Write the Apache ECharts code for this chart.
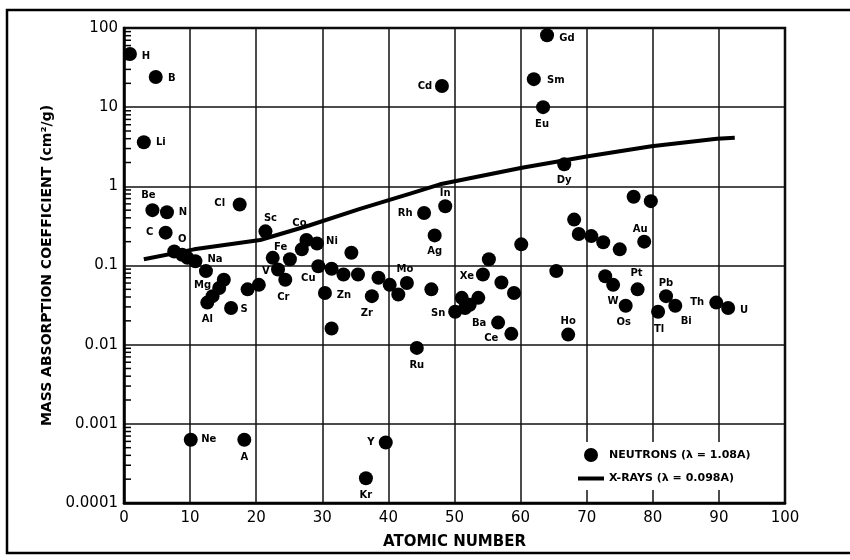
<!DOCTYPE html>
<html>
<head>
<meta charset="utf-8">
<script src="https://cdn.jsdelivr.net/npm/echarts@6/dist/echarts.min.js"></script>
<style>
  html, body { margin: 0; padding: 0; background: #fff; }
  #chart { width: 850px; height: 560px; }
</style>
</head>
<body>
<div id="chart"></div>
<script>
// neutron absorption points (atomic number, coefficient)
var neutronNames = ['H', 'Li', 'B', 'Be', 'C', 'N', 'O', '', '', '', 'Na', 'Mg', '', '', 'Al', 'S', 'Cl', '', 'V', 'Sc',
  'Fe', '', 'Cr', '', '', 'Co', 'Ni', 'Cu', 'Zn', '', '', '', '', '', 'Zr', '', '', '', 'Mo', 'Ru',
  'Rh', '', 'Ag', 'Cd', 'In', 'Sn', '', '', '', '', 'Xe', '', 'Ba', '', 'Ce', '', '', 'Sm', 'Eu', 'Gd',
  '', 'Dy', 'Ho', '', '', '', '', '', 'W', '', 'Os', '', 'Pt', 'Au', '', 'Tl', 'Pb', 'Bi', 'Th', 'U',
  'Ne', 'A', 'Kr', 'Y'];
var neutronZ = [0.9, 3.0, 4.8, 4.3, 6.3, 6.5, 7.6, 8.8, 9.6, 10.8, 12.4, 13.4, 14.4, 15.1, 12.6, 16.2, 17.5, 18.7, 20.4, 21.4,
  22.5, 23.3, 24.4, 25.1, 26.9, 27.6, 29.2, 29.4, 30.4, 31.4, 31.4, 33.2, 34.4, 35.4, 37.5, 38.5, 40.2, 41.5, 42.8, 44.3,
  45.4, 46.5, 47.0, 48.1, 48.6, 50.1, 51.1, 51.6, 52.3, 53.6, 54.3, 55.2, 56.6, 57.1, 58.6, 59.0, 60.1, 62.0, 63.4, 64.0,
  65.4, 66.6, 67.2, 68.1, 68.8, 70.7, 72.5, 72.8, 74.0, 75.0, 75.9, 77.1, 77.7, 78.7, 79.7, 80.8, 82.0, 83.4, 89.6, 91.4,
  10.1, 18.2, 36.6, 39.6];
var neutronVal = [47, 3.6, 24, 0.50, 0.26, 0.47, 0.15, 0.137, 0.125, 0.113, 0.085, 0.041, 0.052, 0.066, 0.034, 0.029, 0.59, 0.050, 0.057, 0.27,
  0.125, 0.089, 0.066, 0.12, 0.16, 0.21, 0.19, 0.098, 0.045, 0.016, 0.091, 0.077, 0.145, 0.077, 0.041, 0.070, 0.057, 0.043, 0.060, 0.0091,
  0.46, 0.050, 0.24, 18.5, 0.56, 0.026, 0.039, 0.029, 0.032, 0.039, 0.077, 0.12, 0.019, 0.061, 0.0137, 0.045, 0.185, 22.6, 10, 81,
  0.085, 1.9, 0.0134, 0.38, 0.25, 0.235, 0.197, 0.073, 0.057, 0.16, 0.031, 0.74, 0.050, 0.20, 0.65, 0.026, 0.041, 0.031, 0.034, 0.029,
  0.00063, 0.00063, 0.000205, 0.00058];

// x-ray curve
var xrayZ = [3, 10.6, 20.6, 28, 35.7, 43.3, 47.8, 60.2, 70.2, 79.8, 89.7, 92.4];
var xrayVal = [0.12, 0.16, 0.21, 0.32, 0.52, 0.81, 1.06, 1.72, 2.4, 3.2, 4.0, 4.1];

var yTicks = [0.0001, 0.001, 0.01, 0.1, 1, 10, 100];

// where each element symbol sits relative to its dot (px)
var labelOffset = {
  H: [16, 2], Li: [17, 0], B: [16, 1], Be: [-4, -15], C: [-16, 0], N: [16, 0], O: [8, -12],
  Na: [9, -12], Mg: [-10, -11], Al: [0, 17], S: [13, 1], Cl: [-20, -1], V: [7, -13], Sc: [5, -13],
  Fe: [8, -10], Cr: [-2, 18], Co: [-7, -17], Ni: [15, -2], Cu: [-10, 12], Zn: [19, 2], Zr: [-5, 17],
  Mo: [-2, -14], Ru: [0, 17], Rh: [-19, 0], Ag: [0, 16], Cd: [-17, 0], In: [0, -13], Sn: [-17, 2],
  Xe: [-16, 2], Ba: [-19, 1], Ce: [-20, 5], Sm: [22, 1], Eu: [-1, 17], Gd: [20, 3], Dy: [0, 16],
  Ho: [0, -13], W: [0, 17], Os: [-2, 17], Pt: [-1, -16], Au: [-4, -12], Tl: [1, 18], Pb: [0, -13],
  Bi: [11, 16], Th: [-19, 0], U: [16, 2], Ne: [18, 0], A: [0, 18], Kr: [0, 17], Y: [-15, 0]
};

var NEUTRON = 'NEUTRONS (λ = 1.08A)';
var XRAY = 'X-RAYS (λ = 0.098A)';

var neutronData = neutronZ.map(function (z, i) {
  var nm = neutronNames[i];
  var item = { value: [z, neutronVal[i]], name: nm };
  if (nm) {
    item.label = { show: true, formatter: nm, offset: labelOffset[nm] || [14, 0] };
  }
  return item;
});

var xrayData = xrayZ.map(function (z, i) { return [z, xrayVal[i]]; });

var minorData = [];
for (var d = 0; d < yTicks.length - 1; d++) {
  for (var k = 2; k <= 9; k++) minorData.push([0, yTicks[d] * k]);
}

var myChart = echarts.init(document.getElementById('chart'));
var font = 'DejaVu Sans';

option = {
  animation: false,
  backgroundColor: '#fff',
  textStyle: { fontFamily: font, color: '#000' },
  grid: { left: 124, top: 28, width: 661, height: 475, show: true, borderColor: '#000', borderWidth: 2.5 },
  graphic: [{
    type: 'polyline',
    shape: { points: [[850, 10], [7, 10], [7, 553], [850, 553]] },
    style: { stroke: '#000', lineWidth: 2.5, fill: null },
    silent: true
  }],
  legend: {
    orient: 'vertical',
    left: 572, top: 442,
    data: [
      { name: NEUTRON, icon: 'circle' },
      { name: XRAY, icon: 'path://M0,0 L26,0 L26,4 L0,4 Z' }
    ],
    backgroundColor: '#fff',
    padding: [6, 14, 6, 6],
    itemGap: 11,
    itemWidth: 26, itemHeight: 14,
    textStyle: { fontFamily: font, fontSize: 11, fontWeight: 'bold', color: '#000' }
  },
  xAxis: {
    type: 'value', min: 0, max: 100, interval: 10,
    name: 'ATOMIC NUMBER', nameLocation: 'middle', nameGap: 32,
    nameTextStyle: { fontFamily: font, fontSize: 15, fontWeight: 'bold', color: '#000' },
    axisLine: { lineStyle: { color: '#000', width: 2.5 } },
    axisTick: { show: false },
    axisLabel: { fontFamily: font, fontSize: 15, color: '#000', margin: 8 },
    splitLine: { lineStyle: { color: '#111', width: 1.5 } }
  },
  yAxis: {
    type: 'log', logBase: 10, min: 0.0001, max: 100,
    name: 'MASS ABSORPTION COEFFICIENT (cm²/g)', nameLocation: 'middle', nameGap: 70,
    nameTextStyle: { fontFamily: font, fontSize: 14, fontWeight: 'bold', color: '#000' },
    axisLine: { lineStyle: { color: '#000', width: 2.5 } },
    axisTick: { show: false },
    axisLabel: {
      fontFamily: font, fontSize: 15, color: '#000', margin: 6,
      formatter: function (v) {
        var best = yTicks.reduce(function (a, b) { return Math.abs(Math.log10(b) - Math.log10(v)) < Math.abs(Math.log10(a) - Math.log10(v)) ? b : a; });
        return String(best);
      }
    },
    splitLine: { lineStyle: { color: '#111', width: 1.5 } }
  },
  series: [
    {
      name: 'minor', type: 'custom', silent: true, z: 1,
      data: minorData,
      renderItem: function (params, api) {
        var p = api.coord([api.value(0), api.value(1)]);
        return { type: 'line', shape: { x1: p[0], y1: p[1], x2: p[0] + 7, y2: p[1] }, style: { stroke: '#000', lineWidth: 1.5 } };
      }
    },
    {
      name: XRAY, type: 'line', data: xrayData, symbol: 'none', z: 3,
      lineStyle: { color: '#000', width: 4 },
      itemStyle: { color: '#000' }
    },
    {
      name: NEUTRON, type: 'scatter', data: neutronData, symbol: 'circle', symbolSize: 14, z: 4,
      itemStyle: { color: '#000', opacity: 1 },
      label: {
        position: 'inside', align: 'center', verticalAlign: 'middle',
        fontFamily: font, fontSize: 10, fontWeight: 'bold', color: '#000'
      },
      emphasis: { disabled: true }
    }
  ]
};

myChart.setOption(option);
</script>
</body>
</html>
